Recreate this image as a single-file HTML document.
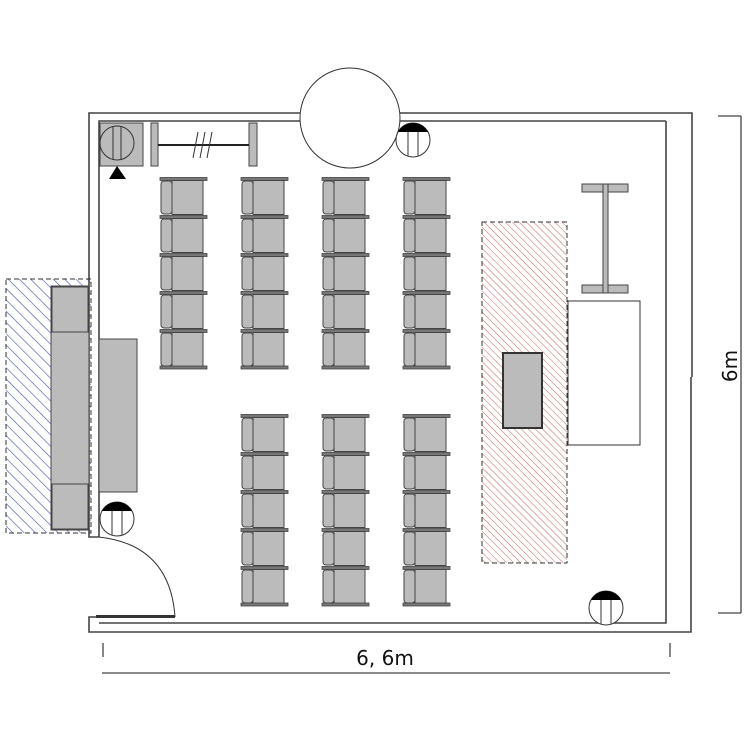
<!DOCTYPE html>
<html><head><meta charset="utf-8"><style>body{margin:0;background:#fff}svg{display:block}</style></head><body>
<svg width="750" height="750" viewBox="0 0 750 750" xmlns="http://www.w3.org/2000/svg">
<defs>
<pattern id="hb" width="8" height="8" patternUnits="userSpaceOnUse" patternTransform="rotate(-45)"><line x1="0" y1="0" x2="0" y2="8" stroke="#4050a8" stroke-width="1.2"/></pattern>
<pattern id="hr" width="5" height="5" patternUnits="userSpaceOnUse" patternTransform="rotate(-45)"><line x1="0" y1="0" x2="0" y2="5" stroke="#c86060" stroke-width="1"/></pattern>
<g id="chair">
<rect x="0" y="-1.5" width="47" height="3" fill="#777" stroke="#444" stroke-width="0.8"/>
<rect x="1" y="2" width="11" height="33" rx="3" fill="#bbb" stroke="#444" stroke-width="1"/>
<rect x="12" y="1.5" width="31" height="34" fill="#bbb" stroke="#444" stroke-width="1"/>
</g>
<g id="light">
<circle cx="0" cy="0" r="17" fill="#fff" stroke="#333" stroke-width="1"/>
<path d="M-15,-8 A17,17 0 0 1 15,-8 Z" fill="#000"/>
<line x1="-5" y1="-8" x2="-5" y2="16" stroke="#333"/><line x1="5" y1="-8" x2="5" y2="16" stroke="#333"/>
</g>
<g id="col"><use href="#chair" x="0" y="179"/><use href="#chair" x="0" y="217"/><use href="#chair" x="0" y="255"/><use href="#chair" x="0" y="293"/><use href="#chair" x="0" y="331"/><rect x="0" y="366" width="47" height="3" fill="#777" stroke="#444" stroke-width="0.8"/></g>
</defs>
<g fill="none" stroke="#444" stroke-width="1.6">
<path d="M89,520 V113 H300"/><path d="M99,537 V121 H300"/>
<path d="M400,113 H667"/><path d="M400,121 H666"/>
<path d="M667,113 H692 V377"/><path d="M666,121 V623 H99"/><path d="M691,377 V632 H89 V617 H99"/>
<path d="M89,520 V537 H99"/>
</g>
<circle cx="350" cy="118" r="50" fill="#fff" stroke="#333" stroke-width="1"/>
<rect x="6" y="279" width="85" height="254" fill="url(#hb)" stroke="#333" stroke-dasharray="5,3"/>
<rect x="51" y="286" width="38" height="244" fill="#bbb" stroke="#444"/>
<rect x="52" y="287" width="36" height="45" fill="#bbb" stroke="#444"/>
<rect x="52" y="484" width="36" height="45" fill="#bbb" stroke="#444"/>
<rect x="99" y="339" width="38" height="153" fill="#bbb" stroke="#444"/>
<path d="M99,537 Q170,545 175,617" fill="none" stroke="#333"/>
<rect x="96" y="615" width="79" height="3" fill="#333"/>
<rect x="100" y="123" width="43" height="43" fill="#bbb" stroke="#444"/>
<circle cx="117" cy="143" r="17" fill="#bbb" stroke="#333"/>
<line x1="113" y1="127" x2="113" y2="160" stroke="#333"/><line x1="121" y1="127" x2="121" y2="160" stroke="#333"/>
<polygon points="117,166 109,179 126,179" fill="#000"/>
<rect x="151" y="123" width="7" height="43" fill="#bbb" stroke="#444"/>
<rect x="249" y="123" width="8" height="43" fill="#bbb" stroke="#444"/>
<line x1="158" y1="145" x2="249" y2="145" stroke="#222" stroke-width="2"/>
<g stroke="#333"><line x1="193" y1="158" x2="198" y2="132"/><line x1="200" y1="158" x2="205" y2="132"/><line x1="207" y1="158" x2="212" y2="132"/></g>
<use href="#light" x="413" y="140"/>
<use href="#light" x="117" y="519"/>
<use href="#light" x="606" y="608"/>
<g transform="translate(160,0)"><use href="#col"/></g>
<g transform="translate(241,0)"><use href="#col"/></g>
<g transform="translate(322,0)"><use href="#col"/></g>
<g transform="translate(403,0)"><use href="#col"/></g>
<g transform="translate(241,237)"><use href="#col"/></g>
<g transform="translate(322,237)"><use href="#col"/></g>
<g transform="translate(403,237)"><use href="#col"/></g>
<rect x="482" y="222" width="85" height="341" fill="url(#hr)" stroke="#333" stroke-dasharray="5,3"/>
<rect x="503" y="353" width="39" height="75" fill="#bbb" stroke="#333" stroke-width="2"/>
<rect x="568" y="301" width="72" height="144" fill="#fff" stroke="#333"/>
<rect x="582" y="184" width="46" height="8" fill="#bbb" stroke="#444"/>
<rect x="582" y="285" width="46" height="8" fill="#bbb" stroke="#444"/>
<rect x="603" y="184" width="5" height="109" fill="#bbb" stroke="#444"/>
<g stroke="#444" stroke-width="1.3" fill="none">
<line x1="102" y1="673" x2="670" y2="673"/><line x1="103" y1="643" x2="103" y2="657"/><line x1="670" y1="643" x2="670" y2="657"/>
<line x1="741" y1="116" x2="741" y2="613"/><line x1="718" y1="116" x2="741" y2="116"/><line x1="718" y1="613" x2="741" y2="613"/>
</g>
<text x="385" y="665" font-family="DejaVu Sans, sans-serif" font-size="20" text-anchor="middle" fill="#111">6, 6m</text>
<text x="0" y="0" transform="translate(737,366) rotate(-90)" font-family="DejaVu Sans, sans-serif" font-size="20" text-anchor="middle" fill="#111">6m</text>
</svg>
</body></html>
